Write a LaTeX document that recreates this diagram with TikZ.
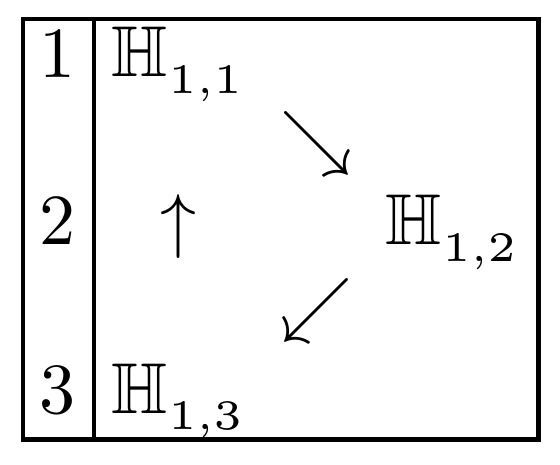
\RequirePackage{fix-cm}
\documentclass[tikz,border=0pt]{standalone}
\usepackage{amssymb}
\font\subf=cmr5 at 42pt
\font\digf=cmr10 at 72pt
\newcommand\Hsub[1]{$\mathbb{H}$\kern1pt\raisebox{-16.5pt}{\subf #1}}
\begin{document}
\begin{tikzpicture}[x=1pt,y=-1pt,
  lbl/.style={inner sep=0pt,outer sep=0pt,font=\fontsize{72}{80}\selectfont},
  frame/.style={line width=4.5pt}]
\useasboundingbox (0,0) rectangle (560,465);
\draw[frame] (23,19) rectangle (538.5,439.5);
\draw[frame] (94,19) -- (94,439.5);
\node[lbl,anchor=base] (n1) at (57,78) {\digf 1};
\node[lbl,anchor=base] (n2) at (57,245) {\digf 2};
\node[lbl,anchor=base] (n3) at (57,413) {\digf 3};
\node[lbl,anchor=base west] (h11) at (111,77) {\Hsub{1,1}};
\node[lbl,anchor=base west] (h12) at (385,245) {\Hsub{1,2}};
\node[lbl,anchor=base west] (h13) at (111,413) {\Hsub{1,3}};
\node[lbl,anchor=center] (a1) at (316,144) {$\searrow$};
\node[lbl,anchor=center] (a2) at (316,310) {$\swarrow$};
\node[lbl,anchor=base] (a3) at (178,245) {$\uparrow$};
\end{tikzpicture}
\end{document}
